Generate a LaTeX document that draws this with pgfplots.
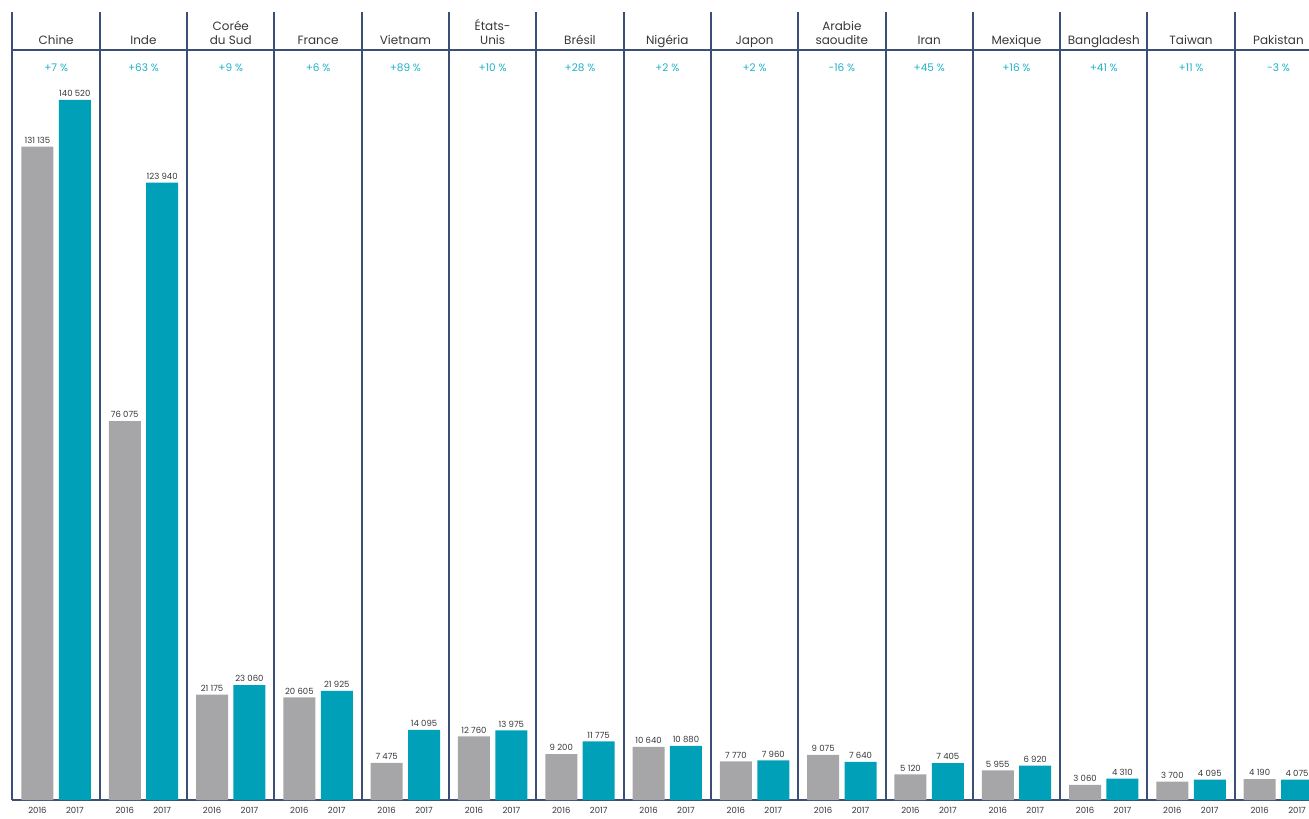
\documentclass[border=0pt]{standalone}
\usepackage{fontspec}
\setmainfont{Poppins}
\usepackage{pgfplots}
\pgfplotsset{compat=1.18}
\definecolor{barteal}{RGB}{0,161,184}
\definecolor{bargray}{RGB}{166,166,168}
\definecolor{linecol}{RGB}{58,78,118}
\definecolor{pctcol}{RGB}{30,178,200}
\definecolor{txtcol}{RGB}{55,55,60}
\begin{document}
\begin{tikzpicture}
\begin{axis}[
  scale only axis,
  width=1296.5pt, height=788pt,
  xmin=-0.5, xmax=14.351,
  ymin=0, ymax=158183,
  clip=false,
  axis x line=bottom,
  axis y line=none,
  x axis line style={-, draw=linecol, line width=2pt},
  ytick=\empty,
  xtick={-0.5,0.5,...,13.5},
  xticklabels={},
  xmajorgrids=true,
  major grid style={draw=linecol, line width=2pt},
  major tick length=0pt,
  extra x ticks={-0.2142,0.2142,0.7858,1.2142,1.7858,2.2142,2.7858,3.2142,3.7858,4.2142,4.7858,5.2142,5.7858,6.2142,6.7858,7.2142,7.7858,8.2142,8.7858,9.2142,9.7858,10.2142,10.7858,11.2142,11.7858,12.2142,12.7858,13.2142,13.7858,14.2142},
  extra x tick labels={2016,2017,2016,2017,2016,2017,2016,2017,2016,2017,2016,2017,2016,2017,2016,2017,2016,2017,2016,2017,2016,2017,2016,2017,2016,2017,2016,2017,2016,2017},
  extra x tick style={grid=none, major tick length=0pt,
     tick label style={font=\fontsize{8.5}{9}\selectfont, text=txtcol, yshift=-3.5pt}},
]
\addplot[ybar, bar width=32pt, bar shift=-18.7pt, fill=bargray, draw=none,
  point meta=explicit symbolic, nodes near coords,
  every node near coord/.append style={font=\fontsize{8.5}{9}\selectfont, text=txtcol, inner sep=2pt, xshift=-18.7pt, yshift=1pt}] coordinates {
 (0,131135) [131 135] (1,76075) [76 075] (2,21175) [21 175] (3,20605) [20 605]
 (4,7475) [7 475] (5,12760) [12 760] (6,9200) [9 200] (7,10640) [10 640]
 (8,7770) [7 770] (9,9075) [9 075] (10,5120) [5 120] (11,5955) [5 955]
 (12,3060) [3 060] (13,3700) [3 700] (14,4190) [4 190]};
\addplot[ybar, bar width=32pt, bar shift=18.7pt, fill=barteal, draw=none,
  point meta=explicit symbolic, nodes near coords,
  every node near coord/.append style={font=\fontsize{8.5}{9}\selectfont, text=txtcol, inner sep=2pt, xshift=18.7pt, yshift=1pt}] coordinates {
 (0,140520) [140 520] (1,123940) [123 940] (2,23060) [23 060] (3,21925) [21 925]
 (4,14095) [14 095] (5,13975) [13 975] (6,11775) [11 775] (7,10880) [10 880]
 (8,7960) [7 960] (9,7640) [7 640] (10,7405) [7 405] (11,6920) [6 920]
 (12,4310) [4 310] (13,4095) [4 095] (14,4075) [4 075]};
\addplot[draw=none, mark=none, point meta=explicit symbolic, nodes near coords,
  every node near coord/.style={anchor=south, align=center, text depth=0pt, font=\fontsize{12}{14}\selectfont, text=txtcol, inner sep=0pt}] coordinates {
 (0,151557) [Chine] (1,151557) [Inde] (2,151557) [{Corée\\du Sud}] (3,151557) [France]
 (4,151557) [Vietnam] (5,151557) [{États-\\Unis}] (6,151557) [Brésil] (7,151557) [Nigéria]
 (8,151557) [Japon] (9,151557) [{Arabie\\saoudite}] (10,151557) [Iran] (11,151557) [Mexique]
 (12,151557) [Bangladesh] (13,151557) [Taiwan] (14,151557) [Pakistan]};
\addplot[draw=none, mark=none, point meta=explicit symbolic, nodes near coords,
  every node near coord/.style={anchor=center, font=\fontsize{10.5}{12}\selectfont, text=pctcol, inner sep=0pt}] coordinates {
 (0,146942) [+7 \%] (1,146942) [+63 \%] (2,146942) [+9 \%] (3,146942) [+6 \%]
 (4,146942) [+89 \%] (5,146942) [+10 \%] (6,146942) [+28 \%] (7,146942) [+2 \%]
 (8,146942) [+2 \%] (9,146942) [-16 \%] (10,146942) [+45 \%] (11,146942) [+16 \%]
 (12,146942) [+41 \%] (13,146942) [+11 \%] (14,146942) [-3 \%]};
\draw[linecol, line width=2pt] (axis cs:-0.5,150555) -- (axis cs:14.351,150555);
\coordinate (bl) at (rel axis cs:0,0);
\coordinate (tr) at (rel axis cs:1,1);
\end{axis}
\pgfresetboundingbox
\path[use as bounding box] ([xshift=-12.5pt,yshift=-18pt]bl) rectangle ([yshift=12pt]tr);
\end{tikzpicture}
\end{document}
